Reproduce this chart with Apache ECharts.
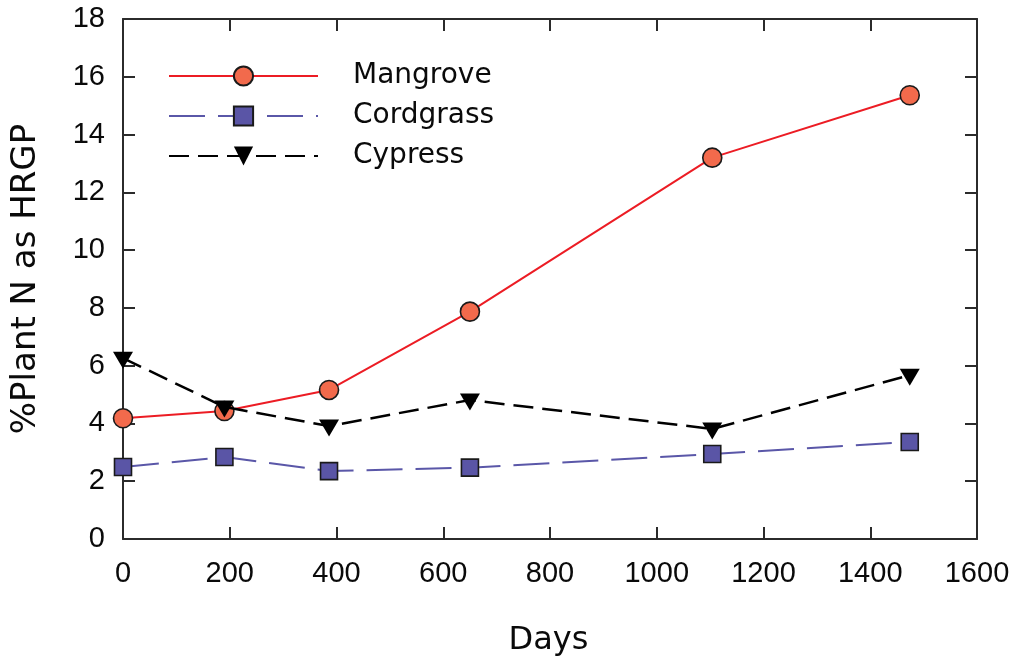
<!DOCTYPE html>
<html>
<head>
<meta charset="utf-8">
<script src="https://cdn.jsdelivr.net/npm/echarts@6/dist/echarts.min.js"></script>
<style>
  html, body { margin: 0; padding: 0; background: #fff; }
  #chart { width: 1014px; height: 658px; }
</style>
</head>
<body>
<div id="chart"></div>
<script>
// Sampling days and % plant N held as HRGP for each species
const days = [0, 190, 386, 650, 1104, 1474];
const mangrove = [4.18, 4.43, 5.16, 7.87, 13.2, 15.36];
const cordgrass = [2.49, 2.84, 2.35, 2.47, 2.94, 3.36];
const cypress = [6.26, 4.57, 3.91, 4.81, 3.81, 5.67];

const xTicks = { min: 0, max: 1600, interval: 200 };
const yTicks = { min: 0, max: 18, interval: 2 };

const pairs = (xs, ys) => xs.map((x, i) => [x, ys[i]]);

const frame = '#2b2b2b';
const labelFont = {
  fontFamily: 'Liberation Sans', fontSize: 29, color: '#0a0a0a',
  formatter: (v) => String(v)
};
const titleFont = { fontFamily: 'DejaVu Sans', color: '#0a0a0a' };

function axisBase(extra) {
  return Object.assign({
    type: 'value',
    axisLine: { show: true, onZero: false, lineStyle: { color: frame, width: 2 } },
    axisTick: { show: true, inside: true, length: 12, lineStyle: { color: frame, width: 2 } },
    splitLine: { show: false }
  }, extra);
}

const chart = echarts.init(document.getElementById('chart'), null, { renderer: 'canvas' });

chart.setOption({
  animation: false,
  backgroundColor: '#fff',
  grid: {
    left: 123, right: 37, top: 19, bottom: 119,
    containLabel: false,
    outerBoundsMode: 'none'
  },
  legend: {
    orient: 'vertical',
    left: 168,
    top: 62,
    padding: 0,
    itemWidth: 149,
    itemHeight: 24,
    itemGap: 12,
    textStyle: { fontFamily: 'DejaVu Sans', fontSize: 28, color: '#0a0a0a', padding: [0, 0, 0, 30] },
    data: ['Mangrove', 'Cordgrass', 'Cypress']
  },
  xAxis: [
    axisBase(Object.assign({}, xTicks, {
      position: 'bottom',
      name: 'Days',
      nameLocation: 'middle',
      nameGap: 86,
      nameTextStyle: Object.assign({ fontSize: 32, padding: [0, 3, 0, 0] }, titleFont),
      axisLabel: Object.assign({ margin: 20 }, labelFont)
    })),
    axisBase(Object.assign({}, xTicks, { position: 'top', axisLabel: { show: false } }))
  ],
  yAxis: [
    axisBase(Object.assign({}, yTicks, {
      position: 'left',
      name: '%Plant N as HRGP',
      nameLocation: 'middle',
      nameGap: 80,
      nameTextStyle: Object.assign({ fontSize: 34 }, titleFont),
      axisLabel: Object.assign({ margin: 18 }, labelFont)
    })),
    axisBase(Object.assign({}, yTicks, { position: 'right', axisLabel: { show: false } }))
  ],
  series: [
    {
      name: 'Mangrove',
      type: 'line',
      data: pairs(days, mangrove),
      symbol: 'circle',
      symbolSize: 19,
      lineStyle: { color: '#ec1c24', width: 2 },
      itemStyle: { color: '#f26a4c', borderColor: '#1a1a1a', borderWidth: 1.6 },
      z: 2
    },
    {
      name: 'Cordgrass',
      type: 'line',
      data: pairs(days, cordgrass),
      symbol: 'rect',
      symbolSize: 17,
      lineStyle: { color: '#5a57a8', width: 2, type: [36, 13] },
      itemStyle: { color: '#5a55a6', borderColor: '#1a1a1a', borderWidth: 1.6 },
      z: 3
    },
    {
      name: 'Cypress',
      type: 'line',
      data: pairs(days, cypress),
      symbol: 'triangle',
      symbolRotate: 180,
      symbolSize: [20, 17],
      symbolOffset: [0, 2],
      lineStyle: { color: '#000', width: 2.5, type: [20, 9] },
      itemStyle: { color: '#000', borderColor: '#000', borderWidth: 0 },
      z: 4
    }
  ]
});
</script>
</body>
</html>
